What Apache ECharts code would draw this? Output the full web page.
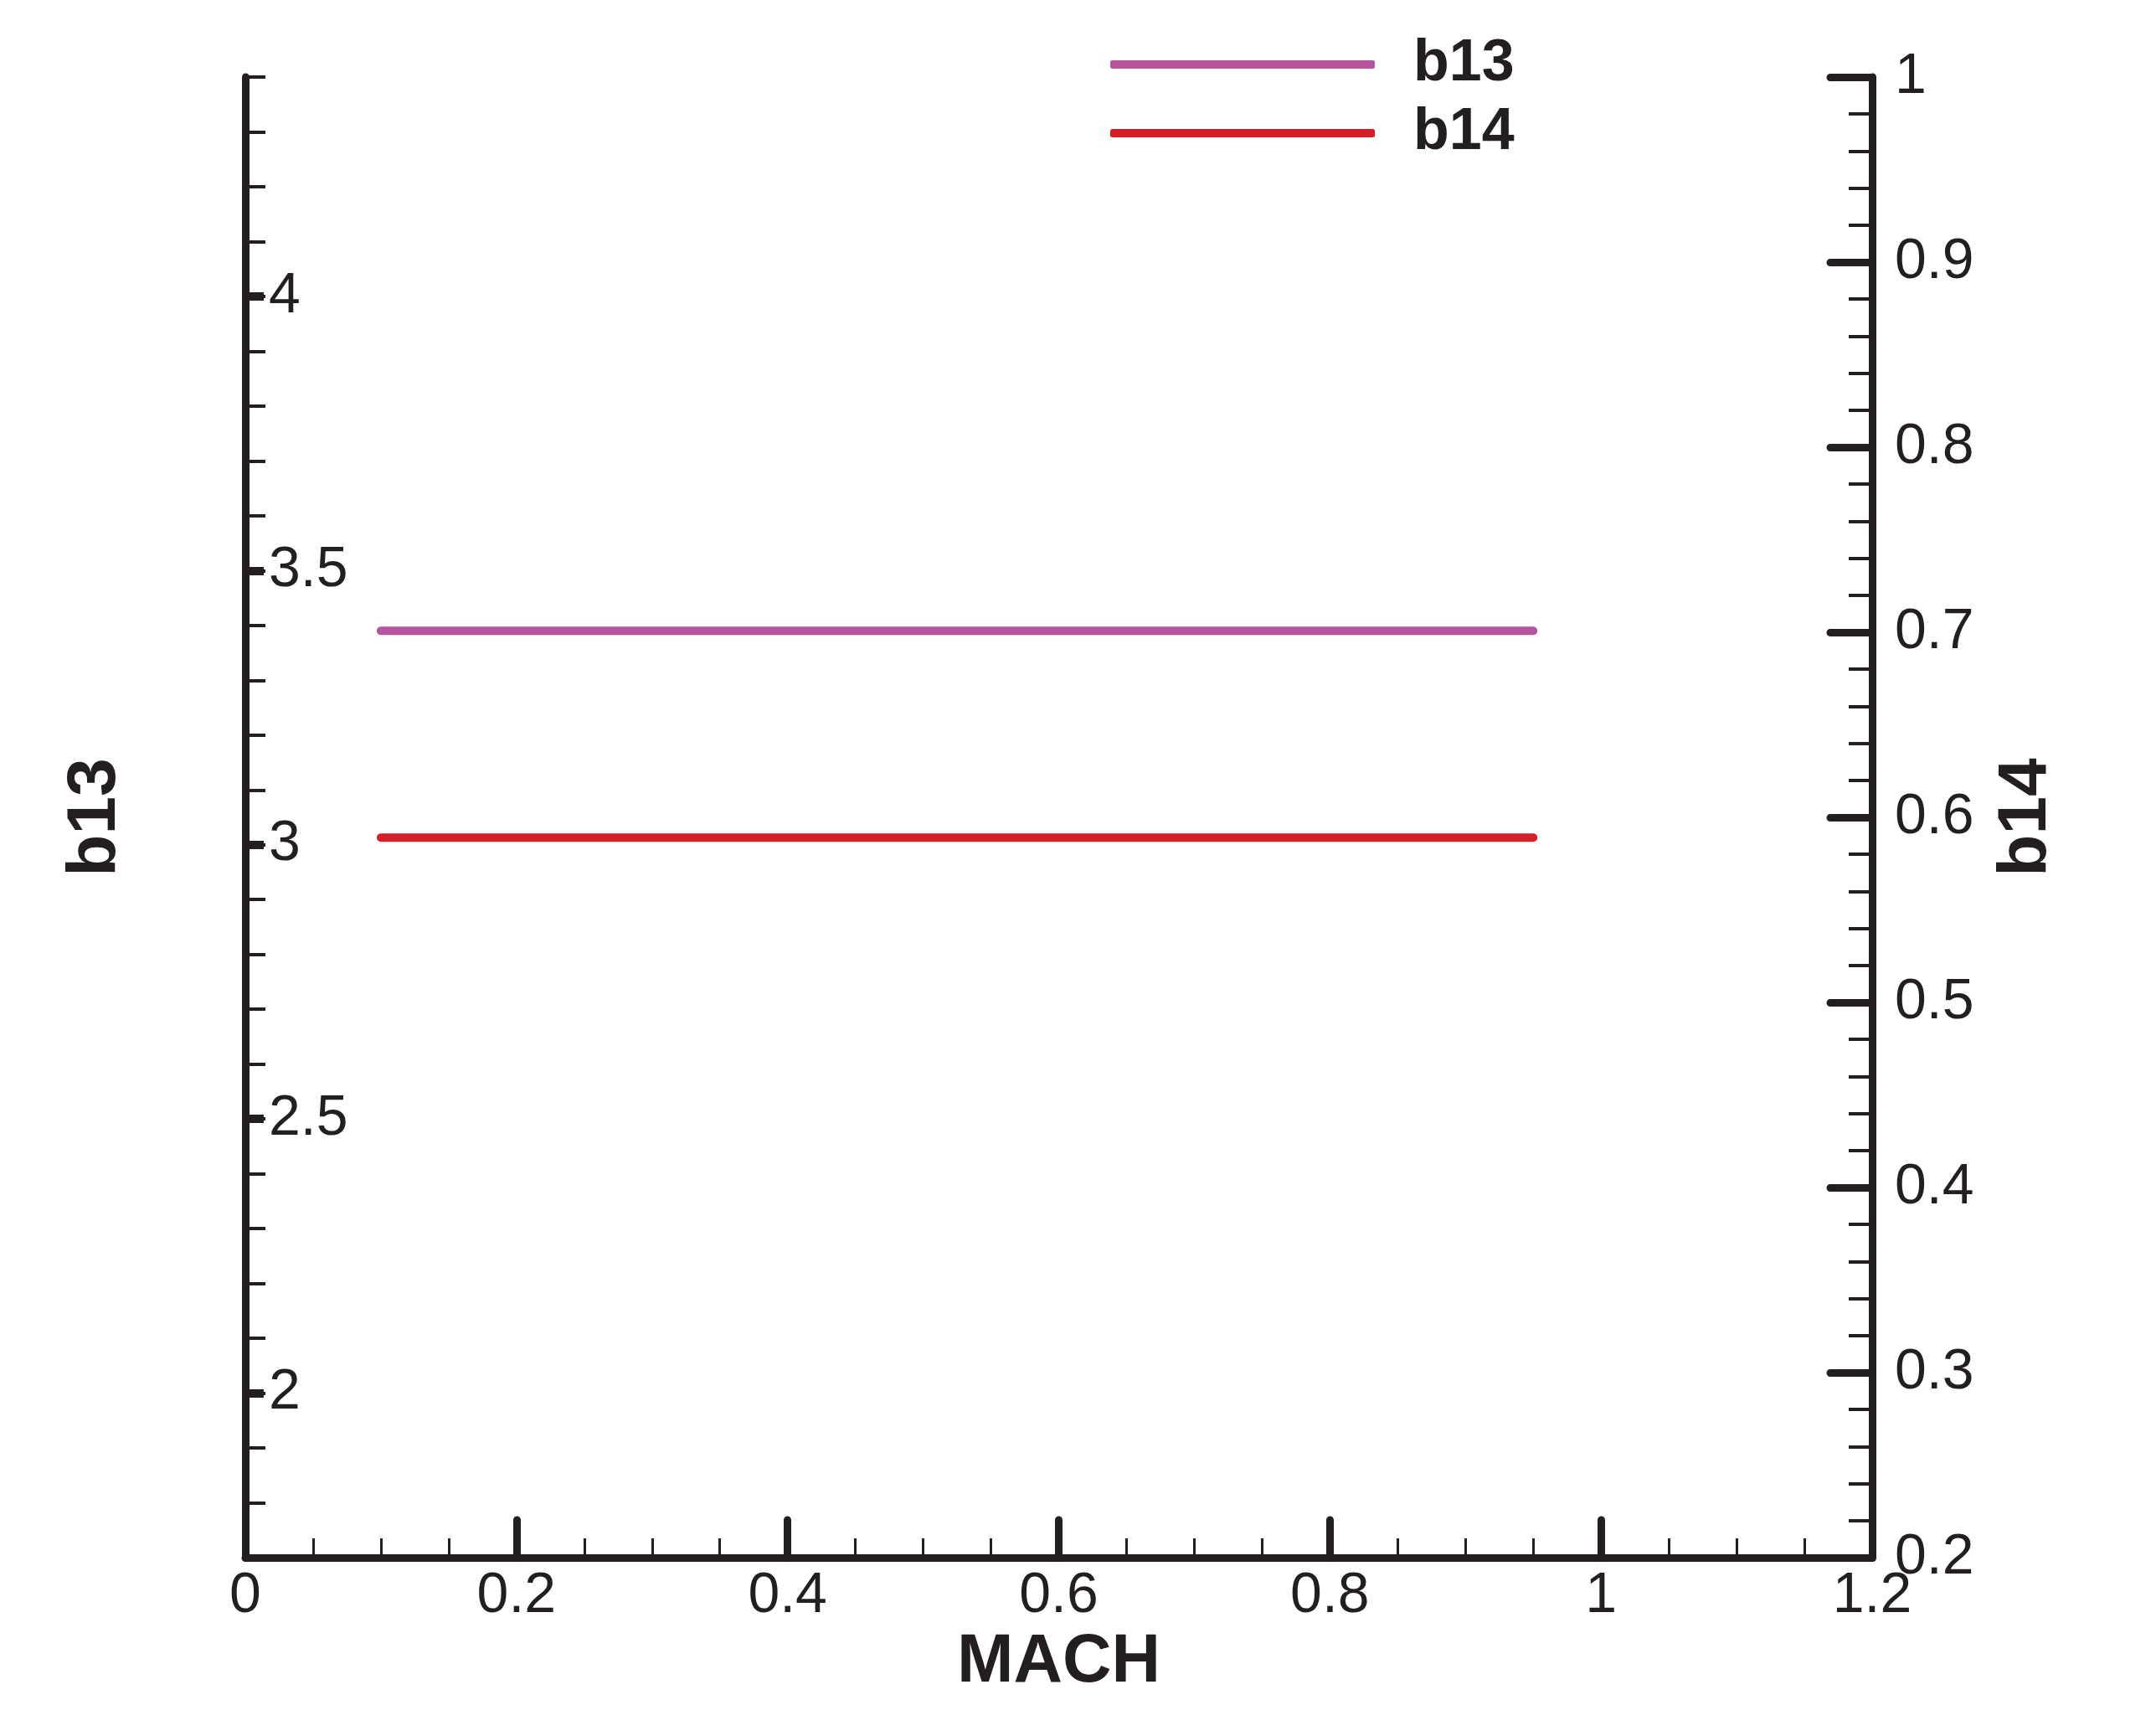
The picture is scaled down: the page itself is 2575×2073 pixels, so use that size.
<!DOCTYPE html>
<html>
<head>
<meta charset="utf-8">
<script src="https://cdn.jsdelivr.net/npm/echarts@6/dist/echarts.min.js"></script>
<style>
html,body{margin:0;padding:0;background:#fff;}
#chart{width:2575px;height:2073px;}
</style>
</head>
<body>
<div id="chart"></div>
<script>
// ---- data ----
const mach = [0.1, 0.2, 0.3, 0.4, 0.5, 0.6, 0.7, 0.8, 0.9, 0.95];
const b13 = [3.39, 3.39, 3.39, 3.39, 3.39, 3.39, 3.39, 3.39, 3.39, 3.39];
const b14 = [0.589, 0.589, 0.589, 0.589, 0.589, 0.589, 0.589, 0.589, 0.589, 0.589];
const leftTickLabels = [2, 2.5, 3, 3.5, 4];
const rightTickLabels = [0.2, 0.3, 0.4, 0.5, 0.6, 0.7, 0.8, 0.9, 1];
const xTickLabels = [0, 0.2, 0.4, 0.6, 0.8, 1, 1.2];

const INK = '#231F20';
const FONT = '"Liberation Sans", Arial, Helvetica, sans-serif';
const fmt = v => String(parseFloat(Number(v).toFixed(3)));

const chart = echarts.init(document.getElementById('chart'), null, {renderer: 'canvas'});
chart.setOption({
  backgroundColor: '#ffffff',
  animation: false,
  grid: {left: 293, right: 339, top: 92, bottom: 213, containLabel: false},
  legend: {
    orient: 'vertical',
    left: 1321,
    top: 37,
    icon: 'roundRect',
    itemWidth: 316,
    itemHeight: 10,
    itemGap: 12,
    textStyle: {fontFamily: FONT, fontSize: 70, fontWeight: 'bold', color: INK, padding: [0, 0, 0, 41]},
    data: ['b13', 'b14']
  },
  xAxis: {
    type: 'value', min: 0, max: 1.2, interval: 0.2,
    name: 'MACH', nameLocation: 'middle', nameGap: 76,
    nameTextStyle: {fontFamily: FONT, fontSize: 81, fontWeight: 'bold', color: INK},
    axisLine: {show: true, lineStyle: {color: INK, width: 9, cap: 'round'}},
    axisTick: {show: true, inside: true, length: 45, lineStyle: {color: INK, width: 9, cap: 'round'}},
    minorTick: {show: true, splitNumber: 4, length: 23, lineStyle: {color: INK, width: 3}},
    axisLabel: {show: true, margin: 12, fontFamily: FONT, fontSize: 68, color: INK,
      customValues: xTickLabels, formatter: fmt},
    splitLine: {show: false}, minorSplitLine: {show: false}
  },
  yAxis: [
    {
      type: 'value', position: 'left', min: 1.7, max: 4.4,
      name: 'b13', nameLocation: 'middle', nameRotate: 90, nameGap: 138,
      nameTextStyle: {fontFamily: FONT, fontSize: 82, fontWeight: 'bold', color: INK},
      axisLine: {show: true, lineStyle: {color: INK, width: 9, cap: 'round'}},
      axisTick: {show: true, inside: true, length: 22, customValues: leftTickLabels,
        lineStyle: {color: INK, width: 10}},
      axisLabel: {show: true, inside: true, margin: 28, fontFamily: FONT, fontSize: 68, color: INK,
        padding: [8, 0, 0, 0],
        customValues: leftTickLabels, formatter: fmt},
      splitLine: {show: false}
    },
    {
      type: 'value', position: 'right', min: 0.2, max: 1, interval: 0.1,
      name: 'b14', nameLocation: 'middle', nameRotate: 90, nameGap: 143,
      nameTextStyle: {fontFamily: FONT, fontSize: 82, fontWeight: 'bold', color: INK},
      axisLine: {show: true, lineStyle: {color: INK, width: 9, cap: 'round'}},
      axisTick: {show: true, inside: true, length: 50, lineStyle: {color: INK, width: 9, cap: 'round'}},
      minorTick: {show: true, splitNumber: 5, length: 28, lineStyle: {color: INK, width: 4}},
      axisLabel: {show: true, margin: 27, fontFamily: FONT, fontSize: 68, color: INK,
        padding: [8, 0, 0, 0],
        customValues: rightTickLabels, formatter: fmt},
      splitLine: {show: false}, minorSplitLine: {show: false}
    },
    {
      type: 'value', position: 'left', min: 1.7, max: 4.4, interval: 0.1,
      axisLine: {show: false},
      axisTick: {show: true, inside: true, length: 24, lineStyle: {color: INK, width: 4}},
      axisLabel: {show: false},
      splitLine: {show: false}
    }
  ],
  series: [
    {
      name: 'b13', type: 'line', yAxisIndex: 0, symbol: 'none', showSymbol: false,
      color: '#B8549F',
      itemStyle: {color: '#B8549F'},
      lineStyle: {color: '#B8549F', width: 10, cap: 'round'},
      data: mach.map((m, i) => [m, b13[i]])
    },
    {
      name: 'b14', type: 'line', yAxisIndex: 1, symbol: 'none', showSymbol: false,
      color: '#D41F26',
      itemStyle: {color: '#D41F26'},
      lineStyle: {color: '#D41F26', width: 10, cap: 'round'},
      data: mach.map((m, i) => [m, b14[i]])
    }
  ]
});
</script>
</body>
</html>
